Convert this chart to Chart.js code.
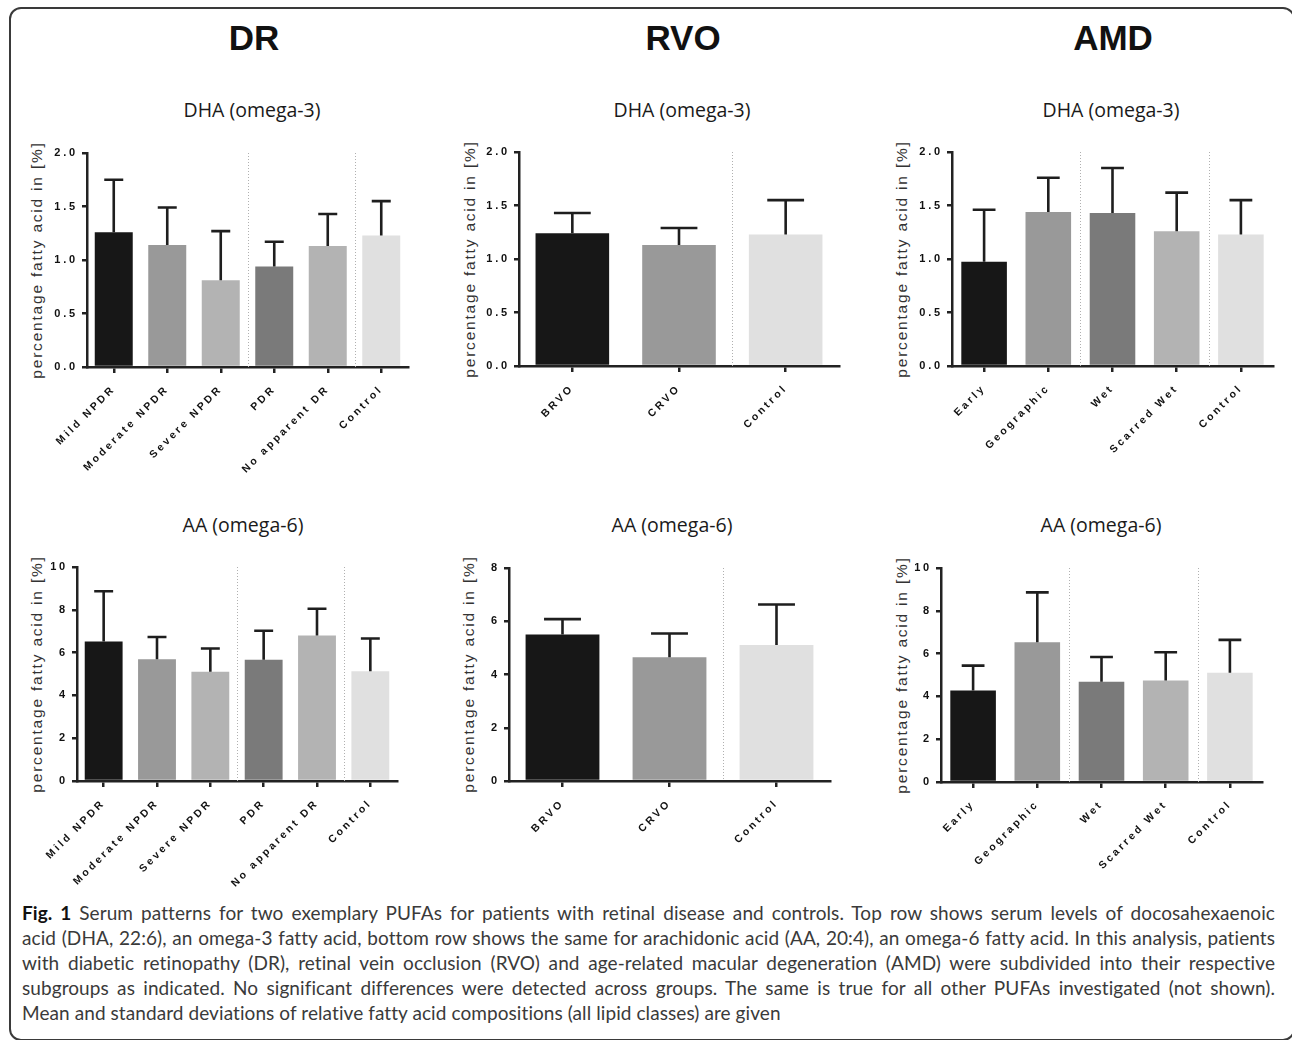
<!DOCTYPE html>
<html>
<head>
<meta charset="utf-8">
<script src="https://cdn.jsdelivr.net/npm/chart.js@4.4.0/dist/chart.umd.min.js"></script>
<style>
body { margin: 0; background: #fff; }
#page { position: relative; width: 1292px; height: 1040px; overflow: hidden; font-family: 'Liberation Sans', Arial, sans-serif; }
#frame { position: absolute; left: 9px; top: 7px; width: 1286px; height: 1034px; border: 2px solid #3a3a3a; border-radius: 12px; box-sizing: border-box; }
.group { position: absolute; top: 17px; width: 200px; margin-left: -100px; text-align: center; font-weight: bold; font-size: 35px; line-height: 42px; color: #111; }
.sub { position: absolute; width: 240px; margin-left: -120px; text-align: center; font-family: 'Open Sans'; font-size: 19.5px; line-height: 26px; color: #1a1a1a; }
.ytitle { position: absolute; width: 300px; height: 20px; margin-left: -150px; margin-top: -10px; text-align: center; transform: rotate(-90deg); font-size: 15.5px; line-height: 20px; letter-spacing: 1.8px; color: #333; white-space: nowrap; }
canvas { position: absolute; }
#caption { position: absolute; left: 22px; top: 900px; width: 1253px; font-family: Lato; font-size: 19px; letter-spacing: 0.08px; line-height: 25px; color: #3a3a3a; }
#caption div { white-space: nowrap; text-align: justify; text-align-last: justify; }
#caption div.last { text-align-last: left; }
#caption b { color: #111; }
</style>
</head>
<body>
<div id="page">
  <div id="frame"></div>

  <div class="group" style="left:254px">DR</div>
  <div class="group" style="left:683px">RVO</div>
  <div class="group" style="left:1113px">AMD</div>

  <div class="sub" style="left:252px;top:97px">DHA (omega-3)</div>
  <div class="sub" style="left:682px;top:97px">DHA (omega-3)</div>
  <div class="sub" style="left:1111px;top:97px">DHA (omega-3)</div>
  <div class="sub" style="left:243px;top:512px">AA (omega-6)</div>
  <div class="sub" style="left:672px;top:512px">AA (omega-6)</div>
  <div class="sub" style="left:1101px;top:512px">AA (omega-6)</div>

  <div class="ytitle" style="left:37px;top:260px">percentage fatty acid in [%]</div>
  <div class="ytitle" style="left:470px;top:259px">percentage fatty acid in [%]</div>
  <div class="ytitle" style="left:902px;top:259px">percentage fatty acid in [%]</div>
  <div class="ytitle" style="left:37px;top:674px">percentage fatty acid in [%]</div>
  <div class="ytitle" style="left:469px;top:674px">percentage fatty acid in [%]</div>
  <div class="ytitle" style="left:902px;top:675px">percentage fatty acid in [%]</div>

  <canvas id="drDha" width="382" height="341" style="left:42px;top:141px"></canvas>
  <canvas id="rvoDha" width="381" height="341" style="left:474px;top:140px"></canvas>
  <canvas id="amdDha" width="382" height="341" style="left:907px;top:140px"></canvas>
  <canvas id="drAa" width="381" height="341" style="left:32px;top:555px"></canvas>
  <canvas id="rvoAa" width="382" height="340" style="left:464px;top:556px"></canvas>
  <canvas id="amdAa" width="382" height="341" style="left:896px;top:556px"></canvas>

  <div id="caption">
    <div><b>Fig. 1</b> Serum patterns for two exemplary PUFAs for patients with retinal disease and controls. Top row shows serum levels of docosahexaenoic</div>
    <div>acid (DHA, 22:6), an omega-3 fatty acid, bottom row shows the same for arachidonic acid (AA, 20:4), an omega-6 fatty acid. In this analysis, patients</div>
    <div>with diabetic retinopathy (DR), retinal vein occlusion (RVO) and age-related macular degeneration (AMD) were subdivided into their respective</div>
    <div>subgroups as indicated. No significant differences were detected across groups. The same is true for all other PUFAs investigated (not shown).</div>
    <div class="last">Mean and standard deviations of relative fatty acid compositions (all lipid classes) are given</div>
  </div>
</div>

<script>
// categories
const drLabels = ['Mild NPDR', 'Moderate NPDR', 'Severe NPDR', 'PDR', 'No apparent DR', 'Control'];
const rvoLabels = ['BRVO', 'CRVO', 'Control'];
const amdLabels = ['Early', 'Geographic', 'Wet', 'Scarred Wet', 'Control'];

// DHA (omega-3) mean / SD
const drDhaMean = [1.26, 1.14, 0.81, 0.94, 1.13, 1.23];
const drDhaSd = [0.49, 0.35, 0.46, 0.23, 0.30, 0.32];
const rvoDhaMean = [1.24, 1.13, 1.23];
const rvoDhaSd = [0.19, 0.16, 0.32];
const amdDhaMean = [0.975, 1.44, 1.43, 1.26, 1.23];
const amdDhaSd = [0.485, 0.32, 0.42, 0.36, 0.32];

// AA (omega-6) mean / SD
const drAaMean = [6.52, 5.69, 5.11, 5.67, 6.80, 5.13];
const drAaSd = [2.35, 1.04, 1.08, 1.35, 1.25, 1.53];
const rvoAaMean = [5.50, 4.65, 5.11];
const rvoAaSd = [0.58, 0.89, 1.52];
const amdAaMean = [4.27, 6.53, 4.69, 4.74, 5.11];
const amdAaSd = [1.17, 2.33, 1.15, 1.32, 1.53];

// y tick labels
const dhaTicks = ['0.0', '0.5', '1.0', '1.5', '2.0'];
const aa10Ticks = ['0', '2', '4', '6', '8', '10'];
const aa8Ticks = ['0', '2', '4', '6', '8'];

// dotted group separators (after category index)
const drSeparators = [2, 4];
const rvoSeparators = [1];
const amdSeparators = [1, 3];

const drColors = ['#171717', '#999999', '#b3b3b3', '#7a7a7a', '#b3b3b3', '#e0e0e0'];
const rvoColors = ['#171717', '#999999', '#e0e0e0'];
const amdColors = ['#171717', '#999999', '#7a7a7a', '#b3b3b3', '#e0e0e0'];

Chart.defaults.font.family = "'Liberation Sans', Arial, sans-serif";

// spaced-out axis lettering like the original figure
const spacing = {
    id: 'spacing',
    beforeUpdate(chart) { chart.ctx.letterSpacing = '2.8px'; },
    beforeDraw(chart) { chart.ctx.letterSpacing = '2.8px'; }
};

// upper error bar (mean + SD) with a cap half the bar width
const errorBars = {
    id: 'errorBars',
    afterDatasetsDraw(chart, args, opts) {
        const meta = chart.getDatasetMeta(0);
        const yScale = chart.scales.y;
        const values = chart.data.datasets[0].data;
        const ctx = chart.ctx;
        ctx.save();
        ctx.strokeStyle = '#1e1e1e';
        ctx.lineWidth = 2.6;
        meta.data.forEach((bar, i) => {
            const top = yScale.getPixelForValue(values[i] + opts.sd[i]);
            const half = bar.width / 4;
            ctx.beginPath();
            ctx.moveTo(bar.x, bar.y);
            ctx.lineTo(bar.x, top);
            ctx.moveTo(bar.x - half, top);
            ctx.lineTo(bar.x + half, top);
            ctx.stroke();
        });
        ctx.restore();
    }
};

const separators = {
    id: 'separators',
    beforeDatasetsDraw(chart, args, opts) {
        const xScale = chart.scales.x;
        const area = chart.chartArea;
        const ctx = chart.ctx;
        ctx.save();
        ctx.strokeStyle = '#b0b0b0';
        ctx.lineWidth = 1;
        ctx.setLineDash([1, 2]);
        opts.after.forEach(i => {
            const x = Math.round((xScale.getPixelForTick(i) + xScale.getPixelForTick(i + 1)) / 2) + 0.5;
            ctx.beginPath();
            ctx.moveTo(x, area.top);
            ctx.lineTo(x, area.bottom);
            ctx.stroke();
        });
        ctx.restore();
    }
};

function drawPanel(id, labels, means, sds, colors, seps, yMax, yStep, yTicks, barPct) {
    const ctx = document.getElementById(id).getContext('2d');
    return new Chart(ctx, {
        type: 'bar',
        data: {
            labels: labels,
            datasets: [{
                data: means,
                backgroundColor: colors,
                borderWidth: 0,
                categoryPercentage: 1,
                barPercentage: barPct
            }]
        },
        options: {
            responsive: false,
            animation: false,
            layout: { padding: { top: 12, right: 16, left: 0, bottom: 0 } },
            plugins: {
                legend: { display: false },
                tooltip: { enabled: false },
                errorBars: { sd: sds },
                separators: { after: seps }
            },
            scales: {
                x: {
                    offset: true,
                    grid: { display: true, offset: false, drawOnChartArea: false, drawTicks: true, tickLength: 6, color: '#222', lineWidth: 2.5 },
                    border: { display: true, color: '#222', width: 2.5 },
                    ticks: { minRotation: 45, maxRotation: 45, autoSkip: false, padding: 10, color: '#111', font: { size: 10.5, weight: 'bold' } },
                    afterFit(scale) { scale.height = 115; }
                },
                y: {
                    min: 0,
                    max: yMax,
                    grid: { drawOnChartArea: false, tickLength: 5, color: '#222', lineWidth: 2.5 },
                    border: { display: true, color: '#222', width: 2.5 },
                    ticks: { stepSize: yStep, padding: 4, color: '#111', font: { size: 11, weight: 'bold' },
                        callback: (value, index) => yTicks[index] },
                    afterFit(scale) { scale.width = 45; }
                }
            }
        },
        plugins: [spacing, separators, errorBars]
    });
}

drawPanel('drDha', drLabels, drDhaMean, drDhaSd, drColors, drSeparators, 2, 0.5, dhaTicks, 0.71);
drawPanel('rvoDha', rvoLabels, rvoDhaMean, rvoDhaSd, rvoColors, rvoSeparators, 2, 0.5, dhaTicks, 0.69);
drawPanel('amdDha', amdLabels, amdDhaMean, amdDhaSd, amdColors, amdSeparators, 2, 0.5, dhaTicks, 0.71);
drawPanel('drAa', drLabels, drAaMean, drAaSd, drColors, drSeparators, 10, 2, aa10Ticks, 0.71);
drawPanel('rvoAa', rvoLabels, rvoAaMean, rvoAaSd, rvoColors, rvoSeparators, 8, 2, aa8Ticks, 0.69);
drawPanel('amdAa', amdLabels, amdAaMean, amdAaSd, amdColors, amdSeparators, 10, 2, aa10Ticks, 0.71);
</script>
</body>
</html>
